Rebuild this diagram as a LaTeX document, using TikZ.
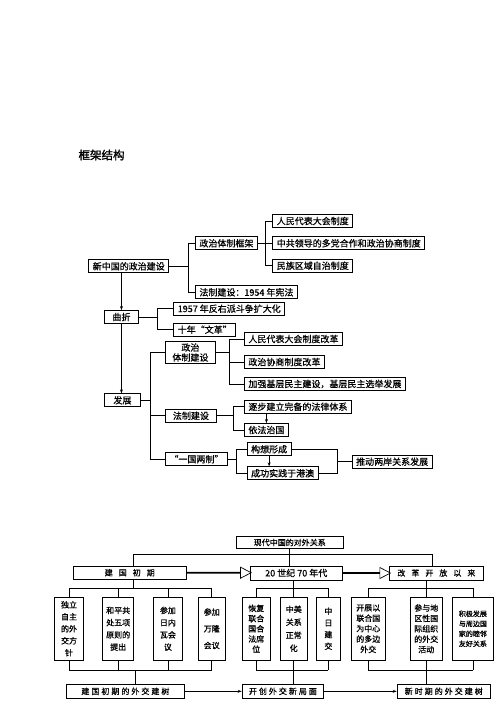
\documentclass[tikz,border=0pt]{standalone}
\usepackage{fontspec}
\setmainfont{Noto Sans CJK SC}[RawFeature={embolden=0.8}]
\newfontfamily\cjkwide{Noto Sans CJK SC}[LetterSpace=25,RawFeature={embolden=0.8}]
\newfontfamily\cjkwider{Noto Sans CJK SC}[LetterSpace=75,RawFeature={embolden=0.8}]
\newfontfamily\cjkhead{Noto Sans CJK SC}[RawFeature={embolden=1.6}]
\usetikzlibrary{positioning}
\usetikzlibrary{calc,arrows.meta,shapes.arrows}
\tikzset{
	>={Stealth[length=4pt,width=3pt]},
	box/.style = {draw, line width=0.9pt, minimum height=13pt, inner xsep=4pt, inner ysep=1pt,
		font=\fontsize{9}{10}\selectfont, anchor=west},
	sbox/.style = {draw, line width=0.8pt, minimum height=13pt, inner sep=1pt,
		font=\fontsize{8}{9}\selectfont, anchor=west},
	vbox/.style = {draw, line width=0.8pt, minimum height=63.3pt, inner sep=1pt,
		align=center, anchor=north west},
	link/.style = {line width=0.7pt},
	harrow/.style = {single arrow, draw, line width=0.7pt, inner sep=0pt, minimum width=11pt,
		single arrow head extend=3.5pt, single arrow tip angle=55, anchor=west},
}

\begin{document}
\begin{tikzpicture}[x=1pt,y=-1pt]
	\useasboundingbox (0,0) rectangle (500,707);
	\node[anchor=west, font=\fontsize{11.5}{12}\cjkhead] (title) at (75,155) {框架结构};
	% political construction
	\node[box] (xz) at (88.3,266.3) {新中国的政治建设};
	\node[box] (kj) at (195,243.3) {政治体制框架};
	\node[box] (fz) at (195,292.3) {法制建设：1954 年宪法};
	\node[box] (rd) at (272.3,221) {人民代表大会制度};
	\node[box] (dd) at (272.3,243.3) {中共领导的多党合作和政治协商制度};
	\node[box] (mz) at (272.3,265.7) {民族区域自治制度};
	\node[box, minimum width=34pt] (qz) at (104,317) {曲折};
	\node[box] (fy) at (173.3,308.7) {1957 年反右派斗争扩大化};
	\node[box] (wg) at (173.3,329.7) {十年“文革”};
	\node[box, minimum width=36pt] (fzn) at (104,400.3) {发展};
	\node[box, align=center, minimum width=50pt, minimum height=21.6pt] (zt) at (165,352.5) {政治\\体制建设};
	\node[box, minimum width=51pt] (fj) at (165,415.8) {法制建设};
	\node[box, minimum width=54.3pt] (yg) at (165,459.2) {“一国两制”};
	\node[box] (r1) at (244,339) {人民代表大会制度改革};
	\node[box] (r2) at (244,362) {政治协商制度改革};
	\node[box] (r3) at (244,384) {加强基层民主建设，基层民主选举发展};
	\node[box] (f1) at (244,406.7) {逐步建立完备的法律体系};
	\node[box] (f2) at (244,430) {依法治国};
	\node[box] (y1) at (246.7,449.3) {构想形成};
	\node[box] (y2) at (246.7,473.3) {成功实践于港澳};
	\node[box] (tl) at (351.7,461.7) {推动两岸关系发展};

	\coordinate (b1) at (188.3,266.3);
	\coordinate (b2) at (265,243.3);
	\coordinate (b3) at (157.3,317);
	\coordinate (b4) at (150,400.3);
	\coordinate (b5) at (229,352.5);
	\coordinate (b6) at (233.3,415.8);
	\coordinate (b7) at (236.7,459.2);
	\coordinate (b8) at (337.3,461.7);
	\draw[link] (xz) -- (b1);
	\foreach \n in {kj,fz} \draw[link] (b1) |- (\n);
	\draw[link] (kj) -- (b2);
	\foreach \n in {rd,dd,mz} \draw[link] (b2) |- (\n);
	\draw[link] (qz) -- (b3);
	\foreach \n in {fy,wg} \draw[link] (b3) |- (\n);
	\draw[link] (fzn) -- (b4);
	\foreach \n in {zt,fj,yg} \draw[link] (b4) |- (\n);
	\draw[link] (zt) -- (b5);
	\foreach \n in {r1,r2,r3} \draw[link] (b5) |- (\n);
	\draw[link] (fj) -- (b6);
	\foreach \n in {f1,f2} \draw[link] (b6) |- (\n);
	\draw[link] (yg) -- (b7);
	\foreach \n in {y1,y2} \draw[link] (b7) |- (\n);
	\draw[link] (y1) -| (b8) |- (y2);
	\draw[link] (b8) -- (tl);
	\draw[link,->] (xz.south -| qz.north) -- (qz.north);
	\draw[link,->] (qz.south) -- (qz.south |- fzn.north);
	\draw[link,->] (f1.south -| f2.north) -- (f2.north);
	\draw[link,->] (y1.south) -- (y1.south |- y2.north);

	% foreign relations
	\node[sbox, minimum width=106.7pt, minimum height=11.6pt] (gx) at (236,542.5) {现代中国的对外关系};
	\node[sbox, minimum width=113.3pt, minimum height=13.3pt] (jc) at (72.7,572.7) {\cjkwider 建国初期};
	\node[sbox, minimum width=91.7pt, minimum height=14pt, font=\fontsize{9}{10}\selectfont] (ns) at (250,573) {20 世纪 70 年代};
	\node[sbox, minimum width=93.4pt, minimum height=14pt] (gg) at (389.3,573) {\cjkwider 改革开放以来};
	\node[harrow, minimum height=64pt] (h1) at (jc.east) {};
	\node[harrow, minimum height=47.6pt] (h2) at (ns.east) {};

	\node[vbox, minimum width=29.3pt, font=\fontsize{8}{12}\selectfont] (a1) at (54,596.7) {独立\\自主\\的外\\交方\\针};
	\node[vbox, minimum width=31pt, font=\fontsize{8}{12.2}\selectfont] (a2) at (102.3,596.7) {和平共\\处五项\\原则的\\提出};
	\node[vbox, minimum width=28.4pt, font=\fontsize{8}{12.2}\selectfont] (a3) at (153.3,596.7) {参加\\日内\\瓦会\\议};
	\node[vbox, minimum width=27.3pt, font=\fontsize{8}{16.7}\selectfont] (a4) at (197.7,596.7) {参加\\万隆\\会议};
	\node[vbox, minimum width=28.3pt, font=\fontsize{8}{10.2}\selectfont] (a5) at (241.7,596.7) {恢复\\联合\\国合\\法席\\位};
	\node[vbox, minimum width=26.7pt, font=\fontsize{8}{13}\selectfont] (a6) at (280,596.7) {中美\\关系\\正常\\化};
	\node[vbox, minimum width=24pt, font=\fontsize{8}{11.7}\selectfont] (a7) at (316,596.7) {中\\日\\建\\交};
	\node[vbox, minimum width=34.3pt, font=\fontsize{8}{10.4}\selectfont] (a8) at (350.7,596.7) {开展以\\联合国\\为中心\\的多边\\外交};
	\node[vbox, minimum width=31.7pt, font=\fontsize{8}{10.4}\selectfont] (a9) at (410,596.7) {参与地\\区性国\\际组织\\的外交\\活动};
	\node[vbox, minimum width=41.6pt, font=\fontsize{7}{10}\selectfont] (a10) at (451.7,596.7) {积极发展\\与周边国\\家的睦邻\\友好关系};

	\node[sbox, minimum width=118pt, minimum height=14pt] (e1) at (66,691.3) {\cjkwide 建国初期的外交建树};
	\node[sbox, minimum width=81.6pt, minimum height=14pt] (e2) at (241.7,691.3) {\cjkwide 开创外交新局面};
	\node[sbox, minimum width=93.3pt, minimum height=14pt] (e3) at (396.7,691.3) {\cjkwide 新时期的外交建树};

	\coordinate (t1) at (133.3,554.3);
	\coordinate (t2) at (432.7,554.3);
	\coordinate (u1) at (133.3,588.3);
	\coordinate (d1) at (135.7,670);
	\draw[link] (gx.south) -- (gx.south |- ns.north);
	\draw[link] (t1 |- jc.north) -- (t1) -- (t2) -- (t2 |- gg.north);
	% upper rakes
	\draw[link] (jc.south -| u1) -- (u1);
	\draw[link] (ns.south -| a6.north) -- (a6.north);
	\draw[link] (gg.south -| a9.north) -- (a9.north);
	\draw[link] (a1.north |- u1) -- (a4.north |- u1);
	\draw[link] (a5.north |- u1) -- (a7.north |- u1);
	\draw[link] (a8.north |- u1) -- (a10.north |- u1);
	\foreach \n in {a1,a2,a3,a4,a5,a7,a8,a10} \draw[link] (\n.north |- u1) -- (\n.north);
	% lower rakes
	\foreach \n in {a1,a2,a3,a4,a5,a6,a7,a8,a9,a10} \draw[link] (\n.south) -- (\n.south |- d1);
	\draw[link] (a1.south |- d1) -- (a4.south |- d1);
	\draw[link] (a5.south |- d1) -- (a7.south |- d1);
	\draw[link] (a8.south |- d1) -- (a10.south |- d1);
	\draw[link] (d1) -- (d1 |- e1.north);
	\draw[link] (a6.south |- d1) -- (a6.south |- e2.north);
	\draw[link] (a9.south |- d1) -- (a9.south |- e3.north);
	\draw[link,->] (e1) -- (e2);
	\draw[link,->] (e2) -- (e3);
\end{tikzpicture}
\end{document}
